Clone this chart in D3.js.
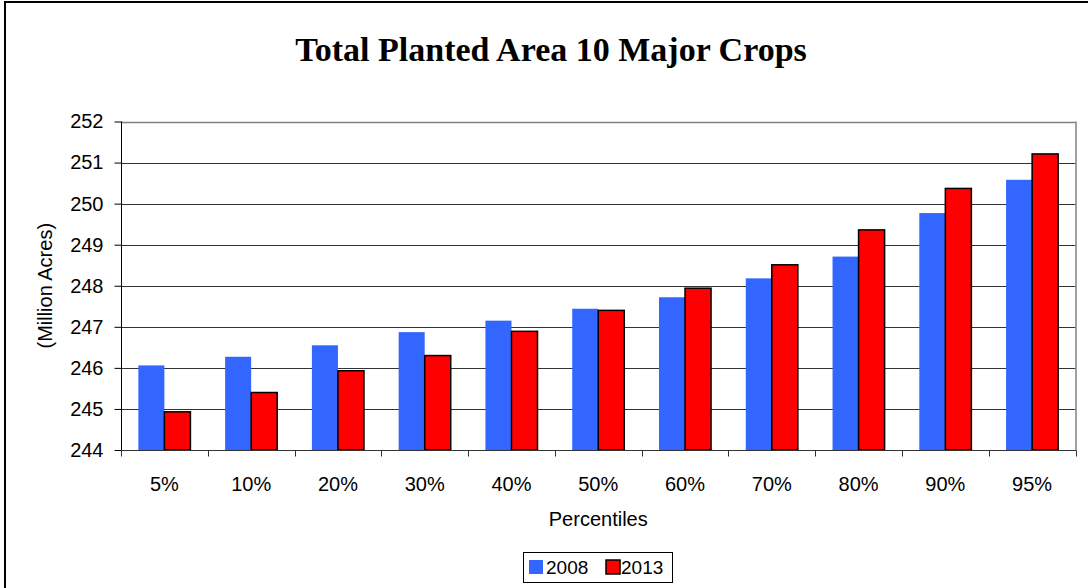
<!DOCTYPE html>
<html>
<head>
<meta charset="utf-8">
<script src="https://cdn.jsdelivr.net/npm/d3@7"></script>
<style>
  html, body { margin: 0; padding: 0; background: #fff; }
  svg { display: block; }
</style>
</head>
<body>
<svg id="chart" width="1088" height="588"></svg>
<script>
const categories = ["5%", "10%", "20%", "30%", "40%", "50%", "60%", "70%", "80%", "90%", "95%"];
const seriesNames = ["2008", "2013"];
const values2008 = [246.06, 246.27, 246.55, 246.87, 247.15, 247.44, 247.72, 248.18, 248.71, 249.77, 250.58];
const values2013 = [244.93, 245.40, 245.93, 246.30, 246.89, 247.40, 247.94, 248.51, 249.36, 250.37, 251.21];
const yTicks = [244, 245, 246, 247, 248, 249, 250, 251, 252];
const title = "Total Planted Area 10 Major Crops";
const yTitle = "(Million Acres)";
const xTitle = "Percentiles";

const colors = { "2008": "#3366FF", "2013": "#FF0000" };
const seriesValues = { "2008": values2008, "2013": values2013 };

const svg = d3.select("#chart");
const plotL = 121, plotR = 1075.5, plotT = 121.5, plotB = 450;

// Frame (top and left edges visible)
svg.append("line").attr("x1", 4).attr("x2", 1088).attr("y1", 2).attr("y2", 2)
  .attr("stroke", "#000").attr("stroke-width", 2);
svg.append("line").attr("x1", 5).attr("x2", 5).attr("y1", 1).attr("y2", 588)
  .attr("stroke", "#000").attr("stroke-width", 2);

// Title
svg.append("text").attr("x", 551).attr("y", 61)
  .attr("text-anchor", "middle")
  .attr("font-family", "'Liberation Serif', 'Times New Roman', serif")
  .attr("font-weight", "bold").attr("font-size", 34)
  .text(title);

const x0 = d3.scaleBand().domain(categories).range([plotL, plotR]).padding(0);
const x1 = d3.scaleBand().domain(seriesNames)
  .range([x0.step() * 0.2, x0.step() * 0.8]).padding(0);
const y = d3.scaleLinear().domain([244, 252]).range([plotB, plotT]);

// Gridlines
svg.append("g").selectAll("line").data(yTicks.filter(t => t > 244)).join("line")
  .attr("x1", plotL).attr("x2", plotR)
  .attr("y1", d => Math.round(y(d)) + 0.5).attr("y2", d => Math.round(y(d)) + 0.5)
  .attr("stroke", d => d === 252 ? "#808080" : "#333").attr("stroke-width", d => d === 252 ? 1.5 : 1);

// right border of plot area
svg.append("line").attr("x1", plotR + 0.5).attr("x2", plotR + 0.5)
  .attr("y1", plotT).attr("y2", plotB).attr("stroke", "#808080").attr("stroke-width", 1.5);

// Bars
const groups = svg.append("g").selectAll("g").data(categories).join("g")
  .attr("transform", d => `translate(${x0(d)},0)`);
groups.selectAll("rect").data((d, i) => seriesNames.map(s => ({ s, v: seriesValues[s][i] }))).join("rect")
  .attr("x", d => x1(d.s))
  .attr("width", x1.bandwidth())
  .attr("y", d => y(d.v))
  .attr("height", d => y(244) - y(d.v))
  .attr("fill", d => colors[d.s])
  .attr("stroke", d => d.s === "2013" ? "#000" : "none")
  .attr("stroke-width", 1.5);

// Y axis
const yAxis = d3.axisLeft(y).tickValues(yTicks).tickSize(7).tickPadding(11).tickFormat(d3.format("d"));
const gy = svg.append("g").attr("transform", `translate(${plotL + 0.5},0)`).call(yAxis);
gy.select(".domain").attr("stroke", "#000").attr("d", `M0,${plotT}V${plotB}`);
gy.selectAll(".tick line").attr("stroke", "#000");
gy.selectAll("text").attr("font-family", "'Liberation Sans', Arial, sans-serif")
  .attr("font-size", 20).attr("fill", "#000");

// X axis
const gx = svg.append("g").attr("transform", `translate(0,${plotB + 0.5})`);
gx.append("line").attr("x1", plotL).attr("x2", plotR + 1).attr("y1", 0).attr("y2", 0).attr("stroke", "#333");
const boundaries = categories.map(c => x0(c)).concat([plotR]);
gx.selectAll("line.tk").data(boundaries).join("line").attr("class", "tk")
  .attr("x1", d => Math.round(d) + 0.5).attr("x2", d => Math.round(d) + 0.5)
  .attr("y1", 0).attr("y2", 6).attr("stroke", "#333");
gx.selectAll("text").data(categories).join("text")
  .attr("x", d => x0(d) + x0.bandwidth() / 2)
  .attr("y", 40)
  .attr("text-anchor", "middle")
  .attr("font-family", "'Liberation Sans', Arial, sans-serif")
  .attr("font-size", 20)
  .text(d => d);

// Axis titles
svg.append("text").attr("x", (plotL + plotR) / 2).attr("y", 526)
  .attr("text-anchor", "middle")
  .attr("font-family", "'Liberation Sans', Arial, sans-serif").attr("font-size", 20)
  .text(xTitle);
svg.append("text")
  .attr("transform", `translate(52,${(plotT + plotB) / 2}) rotate(-90)`)
  .attr("text-anchor", "middle")
  .attr("font-family", "'Liberation Sans', Arial, sans-serif").attr("font-size", 20)
  .text(yTitle);

// Legend
const lg = svg.append("g");
lg.append("rect").attr("x", 523.5).attr("y", 552.5).attr("width", 149).attr("height", 30)
  .attr("fill", "#fff").attr("stroke", "#000").attr("stroke-width", 1);
const legendItems = [
  { s: "2008", sx: 529, tx: 546 },
  { s: "2013", sx: 606, tx: 621 }
];
legendItems.forEach(it => {
  lg.append("rect").attr("x", it.sx).attr("y", 560).attr("width", 14).attr("height", 14)
    .attr("fill", colors[it.s])
    .attr("stroke", it.s === "2013" ? "#000" : "none").attr("stroke-width", 1.5);
  lg.append("text").attr("x", it.tx).attr("y", 574)
    .attr("font-family", "'Liberation Sans', Arial, sans-serif").attr("font-size", 19)
    .text(it.s);
});
</script>
</body>
</html>
